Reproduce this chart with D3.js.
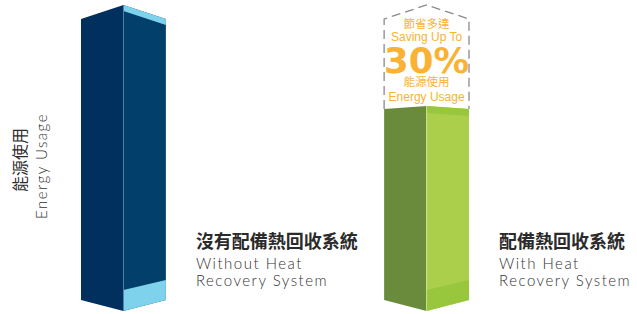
<!DOCTYPE html>
<html>
<head>
<meta charset="utf-8">
<style>
  html, body { margin: 0; padding: 0; background: #fff; }
  svg { display: block; }
  .zh { font-family: "Noto Sans CJK TC", "Noto Sans CJK SC", sans-serif; }
  .en { font-family: Lato, "Open Sans", sans-serif; font-weight: 300; }
</style>
<script src="https://cdn.jsdelivr.net/npm/d3@7/dist/d3.min.js"></script>
</head>
<body>
<svg id="chart" width="637" height="314"></svg>
<script>
  // data
  const CATEGORIES = ['without', 'with'];
  const VALUES = [100, 68];
  const LABELS_ZH = ['沒有配備熱回收系統', '配備熱回收系統'];
  const LABELS_EN = [['Without Heat', 'Recovery System'], ['With Heat', 'Recovery System']];
  const AXIS_LABEL = ['能源使用', 'Energy Usage'];
  const SAVING_TEXT = ['節省多達', 'Saving Up To', '30%', '能源使用', 'Energy Usage'];

  const svg = d3.select('#chart');

  const x = d3.scaleBand().domain(CATEGORIES).range([81, 469]).paddingInner(0.72).paddingOuter(0);
  const y = d3.scaleLinear().domain([0, 100]).range([300, 19]);
  const bw = x.bandwidth();

  // face colours per bar: left, right, accent
  const FACES = [
    { left: '#012f5e', right: '#023f6b', accent: '#7fd2ec', seam: '#4f7fa6' },
    { left: '#6a8b3b', right: '#accf4b', accent: '#98c63c', seam: '#c8df8e' }
  ];
  const TOP_RISE = [14, 3];
  const BOTTOM_DROP = 11;

  const poly = pts => 'M' + pts.map(p => p.join(',')).join('L') + 'Z';

  const bars = svg.append('g').attr('class', 'bars');

  CATEGORIES.forEach((c, i) => {
    const x0 = x(c), xm = x0 + bw / 2, x1 = x0 + bw;
    const yb = y(0), yt = y(VALUES[i]);
    const rise = TOP_RISE[i];
    const col = FACES[i];
    const g = bars.append('g');

    g.append('path').attr('fill', col.left)
      .attr('d', poly([[x0, yt], [xm, yt - rise], [xm, yb + BOTTOM_DROP], [x0, yb]]));
    g.append('path').attr('fill', col.right)
      .attr('d', poly([[xm, yt - rise], [x1, yt], [x1, yb], [xm, yb + BOTTOM_DROP]]));
    // top strip on right face
    const st = i === 0 ? 6 : 7;
    g.append('path').attr('fill', col.accent)
      .attr('d', poly([[xm, yt - rise], [x1, yt], [x1, yt + st], [xm, yt - rise + st]]));
    // bottom band on right face
    g.append('path').attr('fill', col.accent)
      .attr('d', poly([[xm, yb + BOTTOM_DROP - 21], [x1, yb - 20], [x1, yb], [xm, yb + BOTTOM_DROP]]));
    g.append('line')
      .attr('x1', xm).attr('x2', xm)
      .attr('y1', yt - rise).attr('y2', yb + BOTTOM_DROP)
      .attr('stroke', col.seam).attr('stroke-width', 1);

    // category labels
    const lx = x1 + 30;
    g.append('text').attr('class', 'zh')
      .attr('x', lx).attr('y', 248)
      .attr('font-size', 18).attr('font-weight', 700).attr('fill', '#2b2b2b')
      .text(LABELS_ZH[i]);
    LABELS_EN[i].forEach((t, k) => {
      g.append('text').attr('class', 'en')
        .attr('x', lx).attr('y', 269 + k * 17)
        .attr('font-size', 15).attr('letter-spacing', 1.5).attr('fill', '#333')
        .text(t);
    });
  });

  // dashed outline of the saved portion
  const gx0 = x('with'), gxm = gx0 + bw / 2, gx1 = gx0 + bw;
  const gTop = y(VALUES[1]), fullTop = y(VALUES[0]);
  svg.append('path')
    .attr('d', `M${gx0},${gTop}L${gx0},${fullTop}L${gxm},${fullTop - TOP_RISE[0]}L${gx1},${fullTop}L${gx1},${gTop}`)
    .attr('fill', 'none')
    .attr('stroke', '#8a8a8a')
    .attr('stroke-width', 1.3)
    .attr('stroke-dasharray', '9,5');

  const orange = '#f9b233';
  const saving = svg.append('g').attr('fill', orange).attr('text-anchor', 'middle');
  const savingY = [28, 41, 73, 86, 101];
  SAVING_TEXT.forEach((t, k) => {
    const isZh = /[\u4e00-\u9fff]/.test(t);
    const big = k === 2;
    saving.append('text')
      .attr('x', gxm)
      .attr('y', savingY[k])
      .attr('font-family', isZh ? '"Noto Sans CJK TC", sans-serif' : (big ? '"DejaVu Sans", sans-serif' : '"Liberation Sans", Arial, sans-serif'))
      .attr('font-weight', big ? 700 : 400)
      .attr('font-size', big ? 35.5 : (isZh ? 11.5 : 12))
      .text(t);
  });

  // vertical axis title
  const axisT = svg.append('g').attr('text-anchor', 'middle');
  axisT.append('text').attr('class', 'zh')
    .attr('transform', 'translate(26,160) rotate(-90)')
    .attr('font-size', 16).attr('fill', '#2b2b2b')
    .text(AXIS_LABEL[0]);
  axisT.append('text').attr('class', 'en')
    .attr('transform', 'translate(47,166) rotate(-90)')
    .attr('font-size', 15).attr('letter-spacing', 1.5).attr('fill', '#333')
    .text(AXIS_LABEL[1]);
</script>
</body>
</html>
